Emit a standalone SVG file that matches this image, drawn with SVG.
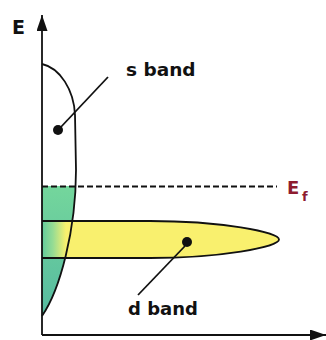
<svg xmlns="http://www.w3.org/2000/svg" width="326" height="340" viewBox="0 0 326 340">
<style>
.lbl{font-family:"DejaVu Sans","Liberation Sans",sans-serif;font-weight:bold;fill:#111}
.ef{font-family:"DejaVu Sans","Liberation Sans",sans-serif;font-weight:bold;fill:#8e1c30}
.ln{stroke:#111;stroke-width:1.8;fill:none}
</style>
<defs>
<clipPath id="belowEf"><rect x="0" y="186" width="326" height="154"/></clipPath>
<linearGradient id="gGreen" x1="0" y1="186" x2="0" y2="316" gradientUnits="userSpaceOnUse">
<stop offset="0" stop-color="#74d69c"/><stop offset="1" stop-color="#56bba0"/>
</linearGradient>
<linearGradient id="gYellow" x1="42" y1="0" x2="66" y2="0" gradientUnits="userSpaceOnUse">
<stop offset="0" stop-color="#62cb9c"/><stop offset="0.45" stop-color="#95dc94"/><stop offset="1" stop-color="#f9f06e"/>
</linearGradient>
<marker id="arr" viewBox="0 0 16 11" refX="16" refY="5.5" markerWidth="16" markerHeight="11" markerUnits="userSpaceOnUse" orient="auto">
<path d="M0,0 L16,5.5 L0,11 Z" fill="#111"/>
</marker>
</defs>
<g id="green-fill" clip-path="url(#belowEf)">
<path d="M42,64 C60,68 74,90 75,115 L76,170 C76,230 60,290 42,316 Z" fill="url(#gGreen)"/>
</g>
<g id="d-band">
<path d="M42,221 L150,221 C220,221 279,232 279,239.5 C279,247 220,258 150,258 L42,258 Z" fill="#f9f06e" stroke="none"/>
<path d="M42,221 L75,221 L75,258 L42,258 Z" fill="url(#gYellow)"/>
<path d="M42,221 L150,221 C220,221 279,232 279,239.5 C279,247 220,258 150,258 L42,258" class="ln"/>
<circle cx="187" cy="242" r="5" fill="#111"/>
</g>
<g id="s-band">
<path d="M42,64 C60,68 74,90 75,115 L76,170 C76,230 60,290 42,316" class="ln"/>
<circle cx="58" cy="130" r="5" fill="#111"/>
</g>
<g id="fermi">
<line x1="42" y1="186.5" x2="277" y2="186.5" stroke="#111" stroke-width="2" stroke-dasharray="6,3"/>
<text class="ef" x="287" y="194" font-size="18">E</text>
<text class="ef" x="302" y="201" font-size="13">f</text>
</g>
<g id="connectors">
<line x1="42" y1="335" x2="42" y2="15" class="ln" marker-end="url(#arr)"/>
<line x1="42" y1="335" x2="326" y2="335" class="ln" marker-end="url(#arr)"/>
<line x1="60" y1="128" x2="108" y2="77" class="ln"/>
<line x1="185" y1="246" x2="138" y2="295" class="ln"/>
</g>
<g id="labels">
<text class="lbl" x="12" y="34" font-size="19">E</text>
<text class="lbl" x="126" y="76" font-size="18.5">s band</text>
<text class="lbl" x="128" y="315" font-size="18">d band</text>
</g>
</svg>
